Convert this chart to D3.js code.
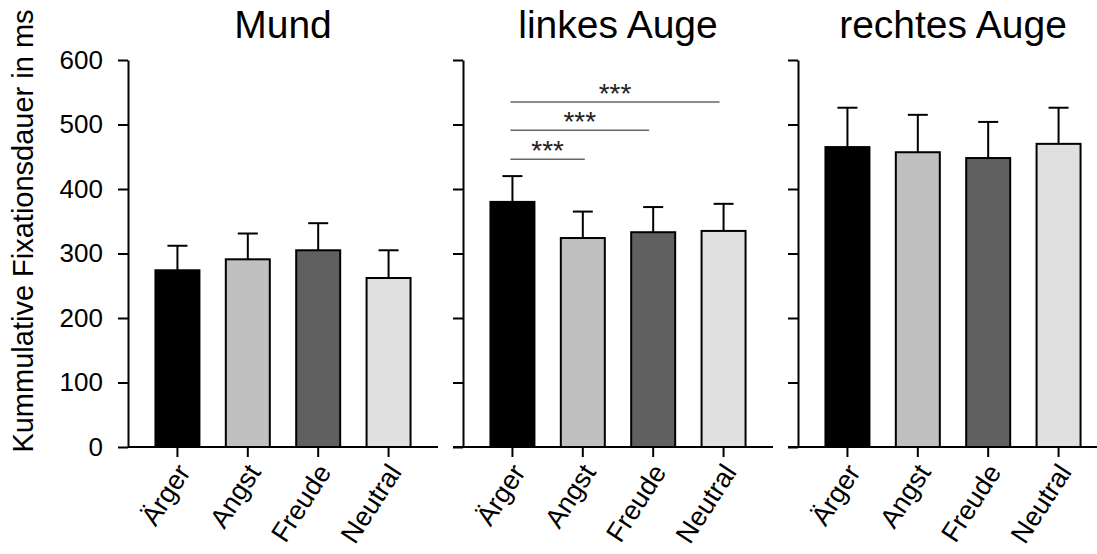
<!DOCTYPE html>
<html><head><meta charset="utf-8">
<script src="https://cdn.jsdelivr.net/npm/d3@7"></script>
<style>
body{margin:0;background:#fff;}
svg{display:block;font-family:"Liberation Sans",Arial,sans-serif;}
</style></head>
<body><svg id="c" width="1097" height="554"></svg>
<script>
const categories = ["Ärger","Angst","Freude","Neutral"];
const panels = ["Mund","linkes Auge","rechtes Auge"];
const meanMund = [274, 291, 305, 262];
const errMund = [38, 40, 42, 43];
const meanLinks = [380, 324, 333, 335];
const errLinks = [40, 41, 39, 42];
const meanRechts = [465, 457, 448, 470];
const errRechts = [61, 58, 56, 56];
const yTicks = [0,100,200,300,400,500,600];
const fills = ["#000000","#c0c0c0","#606060","#e0e0e0"];
const yLabel = "Kummulative Fixationsdauer in ms";
// significance brackets in panel "linkes Auge"
const sigFrom = ["Ärger","Ärger","Ärger"];
const sigTo = ["Angst","Freude","Neutral"];
const sigLevel = [446, 491, 535];
const sigText = ["***","***","***"];

const means = [meanMund, meanLinks, meanRechts];
const errs = [errMund, errLinks, errRechts];

const svg = d3.select("#c");
const y = d3.scaleLinear().domain([0,600]).range([447,60]);
const panelX = [128, 463, 798];
const panelW = 310;

panels.forEach((title, p) => {
  const x0 = panelX[p];
  const x = d3.scaleBand().domain(categories).range([x0, x0+panelW])
    .paddingInner(0.375).paddingOuter(0.39);
  const g = svg.append("g");

  // bars
  g.selectAll("rect.bar").data(categories).join("rect")
    .attr("x", d => x(d)).attr("width", x.bandwidth())
    .attr("y", (d,i) => y(means[p][i]))
    .attr("height", (d,i) => y(0) - y(means[p][i]))
    .attr("fill", (d,i) => fills[i]).attr("stroke", "#000").attr("stroke-width", 2);

  // error bars
  categories.forEach((c,i) => {
    const cx = x(c) + x.bandwidth()/2;
    const top = y(means[p][i] + errs[p][i]);
    g.append("line").attr("x1",cx).attr("x2",cx)
      .attr("y1", y(means[p][i])).attr("y2", top)
      .attr("stroke","#000").attr("stroke-width",2);
    g.append("line").attr("x1",cx-10).attr("x2",cx+10)
      .attr("y1", top).attr("y2", top)
      .attr("stroke","#000").attr("stroke-width",2);
  });

  // y axis
  const ya = g.append("g").attr("transform",`translate(${x0},0)`)
    .call(d3.axisLeft(y).tickValues(yTicks).tickSize(10).tickSizeOuter(0)
      .tickFormat(p===0 ? d3.format("d") : ""));
  ya.select(".domain").attr("stroke","#000").attr("stroke-width",2);
  ya.selectAll(".tick line").attr("stroke","#000").attr("stroke-width",2);
  ya.selectAll(".tick text").attr("font-size",26).attr("fill","#000")
    .attr("x",-25).attr("font-family","Liberation Sans, Arial, sans-serif");

  // x axis
  const xa = g.append("g").attr("transform",`translate(0,${y(0)})`)
    .call(d3.axisBottom(x).tickSize(10).tickSizeOuter(0));
  xa.select(".domain").attr("d", `M${p===0 ? x0 : x0-10},0H${x0+panelW}`)
    .attr("stroke","#000").attr("stroke-width",2);
  xa.selectAll(".tick line").attr("stroke","#000").attr("stroke-width",2);
  xa.selectAll(".tick text")
    .attr("font-size",27).attr("fill","#000")
    .attr("font-family","Liberation Sans, Arial, sans-serif")
    .attr("text-anchor","end")
    .attr("y",0).attr("dy","0.35em")
    .attr("transform","translate(6,20) rotate(-57)");

  // title
  svg.append("text").attr("x", x0 + panelW/2).attr("y", 38)
    .attr("text-anchor","middle").attr("font-size",39).attr("fill","#000")
    .text(title);

  if (p === 1) {
    sigFrom.forEach((f,k) => {
      const xa1 = x(f) + x.bandwidth()/2 - 2;
      const xa2 = x(sigTo[k]) + x.bandwidth()/2 + (k===0 ? 2 : -4);
      const yy = y(sigLevel[k]);
      g.append("line").attr("x1",xa1).attr("x2",xa2).attr("y1",yy).attr("y2",yy)
        .attr("stroke","#666").attr("stroke-width",1.5);
      g.append("text").attr("x",(xa1+xa2)/2).attr("y",yy+1)
        .attr("text-anchor","middle").attr("font-size",28).attr("fill","#222")
        .text(sigText[k]);
    });
  }
});

svg.append("text")
  .attr("transform","translate(33,231) rotate(-90)")
  .attr("text-anchor","middle").attr("font-size",29).attr("fill","#000")
  .text(yLabel);
</script></body></html>
